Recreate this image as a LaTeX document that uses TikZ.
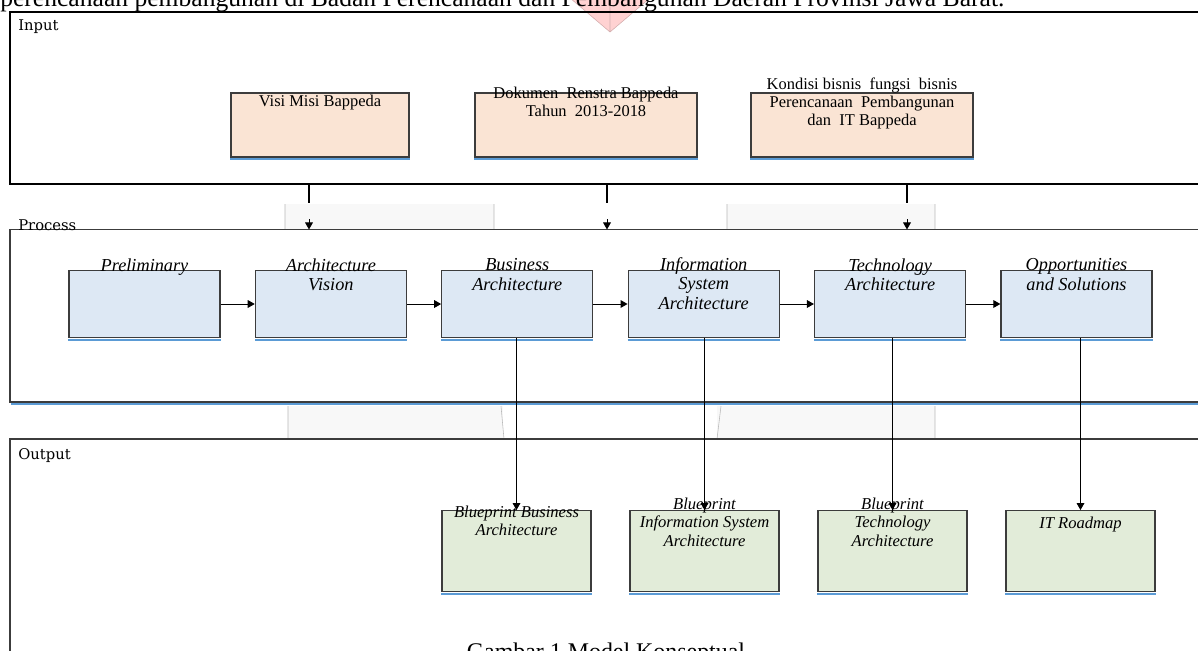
\documentclass[tikz,border=0pt]{standalone}
\usepackage{fontspec}
\setmainfont{Liberation Serif}
\newfontfamily\panelfont{DejaVu Serif}
\usepackage{xcolor}
\usepackage{tikz}
\usetikzlibrary{arrows.meta}

\definecolor{inputfill}{HTML}{FAE4D4}
\definecolor{procfill}{HTML}{DDE8F4}
\definecolor{outfill}{HTML}{E2ECD9}
\definecolor{stripeblue}{HTML}{5B9BD5}
\definecolor{boxedge}{HTML}{3C3C3C}
\definecolor{bandgray}{HTML}{F8F8F8}

\begin{document}
\begin{tikzpicture}[x=0.025cm, y=-0.025cm,
    stripe/.style={append after command={([yshift=-1.1pt]\tikzlastnode.south west) edge[draw=stripeblue, line width=1.4pt] ([yshift=-1.1pt]\tikzlastnode.south east)}},
    inbox/.style={draw=boxedge, line width=0.9pt, fill=inputfill, inner sep=0pt, minimum height=1.6cm, stripe},
    procbox/.style={draw=boxedge, line width=0.9pt, fill=procfill, inner sep=0pt, minimum width=3.775cm, minimum height=1.675cm, stripe},
    outbox/.style={draw=boxedge, line width=0.9pt, fill=outfill, inner sep=0pt, minimum width=3.725cm, minimum height=2.025cm, stripe},
    intext/.style={anchor=north, align=center, inner sep=0pt, font=\fontsize{11.7}{13}\selectfont},
    proctext/.style={anchor=north, align=center, inner sep=0pt, font=\fontsize{13}{13.9}\selectfont\itshape},
    outtext/.style={anchor=north, align=center, inner sep=0pt, font=\fontsize{11.8}{13.2}\selectfont\itshape},
    panellabel/.style={anchor=west, inner sep=0pt, font=\panelfont\fontsize{10.5}{12}\selectfont},
    band/.style={fill=bandgray, draw=none},
    flow/.style={-{Triangle[length=5pt,width=5.5pt]}, line width=0.7pt},
    feed/.style={line width=1.3pt},
  ]
  \useasboundingbox (0,0) rectangle (1198,651);
  \clip (0,0) rectangle (1198,651);

  % page text around the figure
  \fill[red!22, opacity=0.8] (570,-2) -- (650,-2) -- (610,32) -- cycle;
  \draw[red!30!gray!50, line width=0.4pt] (570,-2) -- (610,32) -- (650,-2) (610,-2) -- (610,32);
  \node[anchor=base west, inner sep=0pt, font=\fontsize{18.2}{21}\selectfont] (pagetext) at (0,7)
    {perencanaan pembangunan di Badan Perencanaan dan Pembangunan Daerah Provinsi Jawa Barat.};
  \node[anchor=base, inner sep=0pt, font=\fontsize{17}{20}\selectfont] (caption) at (606,659)
    {Gambar 1 Model Konseptual};

  % grey bands between the panels
  \fill[band] (285,204) rectangle (494,229);
  \fill[band] (727,204) rectangle (935,229);
  \fill[band] (288,406) rectangle (503,439);
  \fill[band] (717,406) rectangle (935,439);
  \draw[gray!55, line width=0.4pt] (285,204) -- (285,229) (494,204) -- (494,229)
    (727,204) -- (727,229) (935,204) -- (935,229)
    (288,406) -- (288,439) (501,406) -- (504,439) (721,406) -- (717,439) (935,406) -- (935,439);

  % panels
  \draw[black, line width=1.1pt] (10,12) rectangle (1215,184);
  \draw[boxedge, line width=0.9pt] (10,229.5) rectangle (1215,402);
  \draw[stripeblue, line width=1.5pt] (11,404) -- (1215,404);
  \draw[boxedge, line width=0.9pt] (10,439) rectangle (1215,700);
  \node[panellabel] (inlabel) at (18,26.7) {Input};
  \node[panellabel] (proclabel) at (18,225) {Process};
  \node[panellabel] (outlabel) at (18,456) {Output};

  % input
  \node[inbox, minimum width=4.45cm] (visi) at (320,125) {};
  \node[inbox, minimum width=5.55cm] (renstra) at (586,125) {};
  \node[inbox, minimum width=5.55cm] (kondisi) at (862,125) {};
  \node[intext] at ([yshift=-1.8pt]visi.north) {Visi Misi Bappeda};
  \node[intext] at ([yshift=4.3pt]renstra.north) {Dokumen\ \ Renstra Bappeda\\Tahun\ \ 2013-2018};
  \node[intext] at ([yshift=10.7pt]kondisi.north) {Kondisi bisnis\ \ fungsi\ \ bisnis\\Perencanaan\ \ Pembangunan\\dan\ \ IT Bappeda};

  \coordinate (inA) at (309,184);  \coordinate (cutA) at (309,203);
  \coordinate (gapA) at (309,219); \coordinate (prA) at (309,229.5);
  \coordinate (inB) at (607,184);  \coordinate (cutB) at (607,203);
  \coordinate (gapB) at (607,219); \coordinate (prB) at (607,229.5);
  \coordinate (inC) at (907,184);  \coordinate (cutC) at (907,203);
  \coordinate (gapC) at (907,219); \coordinate (prC) at (907,229.5);
  \draw[feed] (inA) -- (cutA);
  \draw[feed] (inB) -- (cutB);
  \draw[feed] (inC) -- (cutC);
  \draw[flow] (gapA) -- (prA);
  \draw[flow] (gapB) -- (prB);
  \draw[flow] (gapC) -- (prC);

  % process
  \node[procbox] (prelim) at (144.5,304) {};
  \node[procbox] (archvis) at (330.9,304) {};
  \node[procbox] (bizarch) at (517.3,304) {};
  \node[procbox] (isarch) at (703.7,304) {};
  \node[procbox] (techarch) at (890.1,304) {};
  \node[procbox] (oppsol) at (1076.5,304) {};
  \node[proctext] at ([yshift=8.3pt]prelim.north) {Preliminary};
  \node[proctext] at ([yshift=8.3pt]archvis.north) {Architecture\\Vision};
  \node[proctext] at ([yshift=8.3pt]bizarch.north) {Business\\Architecture};
  \node[proctext] at ([yshift=9pt]isarch.north) {Information\\System\\Architecture};
  \node[proctext] at ([yshift=8.3pt]techarch.north) {Technology\\Architecture};
  \node[proctext] at ([yshift=8.3pt]oppsol.north) {Opportunities\\and Solutions};
  \draw[flow] (prelim.east) -- (archvis.west);
  \draw[flow] (archvis.east) -- (bizarch.west);
  \draw[flow] (bizarch.east) -- (isarch.west);
  \draw[flow] (isarch.east) -- (techarch.west);
  \draw[flow] (techarch.east) -- (oppsol.west);

  % output
  \node[outbox] (bpbiz) at (516.5,551.2) {};
  \node[outbox] (bpis) at (704.5,551.2) {};
  \node[outbox] (bptech) at (892.5,551.2) {};
  \node[outbox] (roadmap) at (1080.5,551.2) {};
  \draw[flow] (bpbiz.north |- bizarch.south) -- (bpbiz.north);
  \draw[flow] (bpis.north |- isarch.south) -- (bpis.north);
  \draw[flow] (bptech.north |- techarch.south) -- (bptech.north);
  \draw[flow] (roadmap.north |- oppsol.south) -- (roadmap.north);
  \node[outtext] at ([yshift=3.3pt]bpbiz.north) {Blueprint Business\\Architecture};
  \node[outtext] at ([yshift=9pt]bpis.north) {Blueprint\\Information System\\Architecture};
  \node[outtext] at ([yshift=9pt]bptech.north) {Blueprint\\Technology\\Architecture};
  \node[outtext] at ([yshift=-4.5pt]roadmap.north) {IT Roadmap};
\end{tikzpicture}
\end{document}
